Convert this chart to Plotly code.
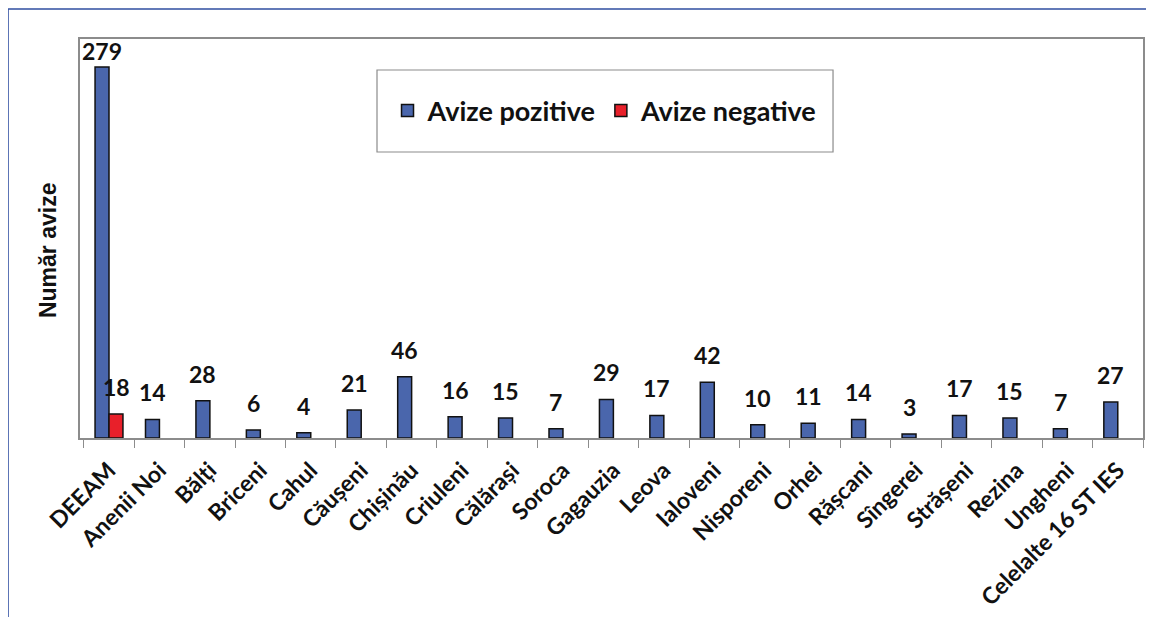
"""
Avize pozitive / negative pe subdiviziuni - Plotly
"""

import plotly.graph_objects as go

categories = [
    "DEEAM", "Anenii Noi", "Bălți", "Briceni", "Cahul", "Căușeni", "Chișinău",
    "Criuleni", "Călărași", "Soroca", "Gagauzia", "Leova", "Ialoveni",
    "Nisporeni", "Orhei", "Rășcani", "Sîngerei", "Strășeni", "Rezina",
    "Ungheni", "Celelalte 16 ST IES",
]
avize_pozitive = [279, 14, 28, 6, 4, 21, 46, 16, 15, 7, 29, 17, 42, 10, 11, 14, 3, 17, 15, 7, 27]
avize_negative = [18] + [None] * 20

BLUE = "#4a66ac"
RED = "#e8202a"
LABEL_FONT = "Lato"
Y_MAX = 300

fig = go.Figure()

fig.add_trace(go.Bar(
    x=categories,
    y=avize_pozitive,
    name="Avize pozitive",
    marker=dict(color=BLUE, line=dict(color="#111111", width=1.5)),
))

fig.add_trace(go.Bar(
    x=categories,
    y=avize_negative,
    name="Avize negative",
    marker=dict(color=RED, line=dict(color="#111111", width=1.5)),
))


def label(cat, val, xshift):
    # eticheta coboara putin cand bara atinge partea de sus a graficului
    yshift = 0 if val > 0.9 * Y_MAX else 11
    return dict(
        x=cat, y=val, text=str(val), showarrow=False,
        xanchor="center", yanchor="bottom", xshift=xshift, yshift=yshift,
        font=dict(family=LABEL_FONT, size=23, color="#111111", weight="bold"),
    )


annotations = [label(c, v, -7) for c, v in zip(categories, avize_pozitive)]
annotations += [label(c, v, 7) for c, v in zip(categories, avize_negative) if v is not None]

# titlul axei Y, pus ca adnotare ca sa stea putin mai jos
annotations.append(dict(
    text="Număr avize", textangle=-90, showarrow=False,
    xref="paper", yref="paper", x=-0.0301, y=0.471,
    xanchor="center", yanchor="middle",
    font=dict(family="Liberation Sans", size=23, color="#111111", weight="bold"),
))

# chenar exterior albastru + caseta legendei
shapes = [
    dict(type="line", xref="paper", yref="paper",
         x0=-0.0677, x1=1.02, y0=1.0752, y1=1.0752,
         line=dict(color="#2f4ea0", width=1.5)),
    dict(type="line", xref="paper", yref="paper",
         x0=-0.0677, x1=-0.0677, y0=-0.46, y1=1.0752,
         line=dict(color="#2f4ea0", width=1.5)),
    dict(type="rect", xref="paper", yref="paper",
         x0=0.2794, x1=0.7084, y0=0.7168, y1=0.9223,
         line=dict(color="#8c8c8c", width=1.2), fillcolor="rgba(0,0,0,0)"),
]

fig.update_layout(
    width=1146,
    height=609,
    barmode="group",
    bargap=0.447,
    bargroupgap=0,
    paper_bgcolor="white",
    plot_bgcolor="white",
    margin=dict(l=72, r=11, t=31, b=179),
    showlegend=True,
    legend=dict(
        orientation="h",
        x=0.4939, y=0.8195, xanchor="center", yanchor="middle",
        bgcolor="rgba(0,0,0,0)", borderwidth=0,
        font=dict(family=LABEL_FONT, size=27, color="#111111", weight="bold"),
        itemwidth=30,
    ),
    annotations=annotations,
    shapes=shapes,
    xaxis=dict(
        type="category",
        automargin=False,
        tickangle=-45,
        tickson="boundaries",
        ticks="outside",
        ticklen=8,
        tickcolor="#8c8c8c",
        ticklabelstandoff=8,
        showline=True,
        linecolor="#8c8c8c",
        linewidth=1.5,
        mirror=True,
        showgrid=False,
        tickfont=dict(family=LABEL_FONT, size=23, color="#111111", weight="bold"),
    ),
    yaxis=dict(
        range=[0, Y_MAX],
        automargin=False,
        showticklabels=False,
        ticks="",
        showgrid=False,
        zeroline=False,
        showline=True,
        linecolor="#8c8c8c",
        linewidth=1.5,
        mirror=True,
    ),
)

fig.write_html("out.html")
